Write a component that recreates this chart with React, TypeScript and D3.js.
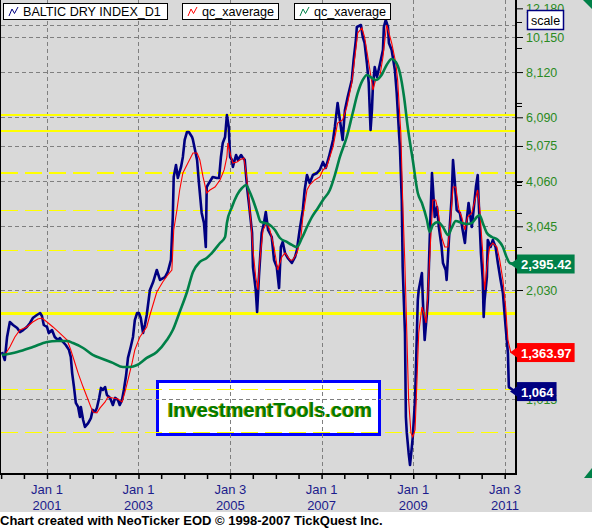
import { useRef, useEffect } from 'react'
import * as d3 from 'd3'

type Pt = [number, number] // [decimal year, index value]

// Baltic Dry Index, weekly-ish closes
const bdiSeries: Pt[] = [
  [2000.02, 1369], [2000.08, 1301], [2000.13, 1506], [2000.19, 1656], [2000.26, 1625], [2000.35, 1594],
  [2000.41, 1554], [2000.48, 1574], [2000.56, 1605], [2000.63, 1646], [2000.69, 1699], [2000.78, 1732],
  [2000.85, 1754], [2000.89, 1721], [2000.93, 1625], [2001.0, 1605], [2001.04, 1544], [2001.11, 1574],
  [2001.17, 1506], [2001.24, 1477], [2001.28, 1496], [2001.35, 1459], [2001.41, 1431], [2001.48, 1387],
  [2001.52, 1326], [2001.55, 1197], [2001.59, 1095], [2001.63, 990], [2001.68, 965], [2001.72, 905],
  [2001.74, 965], [2001.79, 888], [2001.83, 850], [2001.9, 871], [2001.96, 899], [2002.0, 947],
  [2002.05, 935], [2002.09, 959], [2002.14, 1022], [2002.18, 1089], [2002.22, 1075], [2002.27, 1095],
  [2002.31, 1041], [2002.38, 1022], [2002.44, 977], [2002.49, 1022], [2002.55, 1009], [2002.59, 977],
  [2002.64, 1009], [2002.68, 1075], [2002.73, 1182], [2002.77, 1318], [2002.83, 1413], [2002.88, 1506],
  [2002.92, 1677], [2002.97, 1754], [2003.01, 1754], [2003.05, 1699], [2003.1, 1544], [2003.14, 1625],
  [2003.18, 1732], [2003.25, 2031], [2003.32, 2136], [2003.4, 2306], [2003.47, 2164], [2003.58, 2205],
  [2003.64, 2277], [2003.71, 2458], [2003.75, 3231], [2003.77, 4167], [2003.82, 4497], [2003.86, 4140],
  [2003.93, 4441], [2003.97, 4732], [2004.01, 5273], [2004.06, 5548], [2004.1, 5548], [2004.17, 5374],
  [2004.19, 5273], [2004.28, 4642], [2004.32, 4011], [2004.38, 3314], [2004.43, 3110], [2004.47, 2669],
  [2004.49, 3909], [2004.54, 4011], [2004.62, 4167], [2004.71, 4140], [2004.76, 4140], [2004.8, 4732],
  [2004.84, 5174], [2004.89, 5374], [2004.93, 6180], [2004.97, 5727], [2005.0, 4732], [2005.04, 4642],
  [2005.06, 4441], [2005.13, 4792], [2005.17, 4642], [2005.24, 4792], [2005.28, 4702], [2005.32, 4642],
  [2005.37, 3909], [2005.41, 3531], [2005.48, 2918], [2005.5, 2350], [2005.56, 2031], [2005.59, 1766],
  [2005.63, 2205], [2005.69, 2918], [2005.74, 3110], [2005.78, 3335], [2005.83, 2974], [2005.91, 2844],
  [2005.96, 2458], [2006.02, 2350], [2006.07, 2056], [2006.11, 2669], [2006.15, 2756], [2006.2, 2569],
  [2006.26, 2489], [2006.35, 2411], [2006.42, 2505], [2006.46, 2619], [2006.52, 2974], [2006.59, 3378],
  [2006.63, 3836], [2006.68, 4219], [2006.74, 4011], [2006.81, 4219], [2006.9, 4274], [2006.96, 4357],
  [2007.03, 4584], [2007.09, 4413], [2007.16, 4732], [2007.25, 5273], [2007.29, 5727], [2007.35, 6672],
  [2007.4, 5987], [2007.46, 5273], [2007.51, 6381], [2007.57, 6929], [2007.66, 7722], [2007.7, 8770],
  [2007.75, 9958], [2007.77, 10818], [2007.86, 10956], [2007.9, 10150], [2007.94, 9771], [2007.99, 8603],
  [2008.03, 7576], [2008.05, 6504], [2008.07, 5619], [2008.1, 6381], [2008.12, 7386], [2008.16, 8387],
  [2008.21, 7870], [2008.27, 8494], [2008.34, 9346], [2008.36, 10818], [2008.4, 11311], [2008.45, 10818],
  [2008.47, 9771], [2008.53, 9346], [2008.6, 8228], [2008.64, 7109], [2008.69, 5513], [2008.71, 5043],
  [2008.75, 3600], [2008.77, 2350], [2008.82, 1544], [2008.84, 905], [2008.86, 818], [2008.9, 720],
  [2008.93, 667], [2008.97, 748], [2008.99, 797], [2009.04, 1009], [2009.08, 1544], [2009.1, 1905],
  [2009.12, 2031], [2009.19, 2262], [2009.21, 1905], [2009.25, 1477], [2009.3, 1754], [2009.32, 1905],
  [2009.36, 2791], [2009.41, 4274], [2009.43, 3909], [2009.47, 3231], [2009.52, 3443], [2009.56, 3031],
  [2009.62, 2669], [2009.65, 2411], [2009.71, 2306], [2009.73, 2164], [2009.78, 2791], [2009.84, 3668],
  [2009.87, 4642], [2009.91, 4011], [2009.95, 3378], [2010.02, 3314], [2010.08, 2974], [2010.13, 2738],
  [2010.17, 3170], [2010.21, 3531], [2010.28, 3031], [2010.32, 3378], [2010.37, 3909], [2010.41, 4219],
  [2010.43, 3600], [2010.48, 2569], [2010.52, 2164], [2010.54, 1710], [2010.56, 1905], [2010.61, 2205],
  [2010.63, 2791], [2010.69, 2669], [2010.74, 2791], [2010.8, 2669], [2010.85, 2411], [2010.91, 2164],
  [2010.96, 1992], [2011.02, 1605], [2011.07, 1360], [2011.09, 1095], [2011.18, 1075], [2011.22, 1064],
]

// fast qc_xaverage (red)
const fastAverage: Pt[] = [
  [2000.08, 1343], [2000.19, 1413], [2000.3, 1506], [2000.41, 1574], [2000.56, 1605], [2000.69, 1656],
  [2000.8, 1689], [2000.89, 1699], [2001.0, 1656], [2001.13, 1605], [2001.28, 1544], [2001.44, 1477],
  [2001.52, 1387], [2001.59, 1301], [2001.68, 1197], [2001.79, 1095], [2001.9, 1009], [2002.0, 935],
  [2002.09, 929], [2002.16, 959], [2002.27, 996], [2002.33, 1028], [2002.44, 1022], [2002.55, 1015],
  [2002.64, 996], [2002.7, 1055], [2002.77, 1146], [2002.86, 1277], [2002.92, 1387], [2003.03, 1506],
  [2003.18, 1605], [2003.25, 1732], [2003.4, 2005], [2003.53, 2136], [2003.64, 2234], [2003.73, 2306],
  [2003.77, 2974], [2003.84, 3378], [2003.9, 3836], [2003.97, 4274], [2004.08, 4554], [2004.19, 4853],
  [2004.28, 4853], [2004.34, 4642], [2004.41, 4167], [2004.49, 3763], [2004.56, 3836], [2004.67, 3909],
  [2004.78, 4088], [2004.87, 4357], [2004.93, 4732], [2004.95, 5174], [2005.02, 4732], [2005.06, 4554],
  [2005.15, 4584], [2005.21, 4642], [2005.3, 4702], [2005.35, 4274], [2005.39, 3836], [2005.45, 3170],
  [2005.5, 2619], [2005.56, 2205], [2005.61, 2031], [2005.65, 2458], [2005.72, 2974], [2005.8, 3110],
  [2005.87, 2974], [2005.96, 2669], [2006.04, 2306], [2006.13, 2505], [2006.2, 2569], [2006.31, 2458],
  [2006.37, 2458], [2006.46, 2569], [2006.55, 2844], [2006.59, 3231], [2006.68, 3836], [2006.74, 3960],
  [2006.85, 4088], [2006.96, 4167], [2007.03, 4357], [2007.11, 4441], [2007.25, 5043], [2007.35, 5873],
  [2007.46, 5987], [2007.55, 6504], [2007.66, 7576], [2007.72, 8770], [2007.79, 10411], [2007.88, 10750],
  [2007.94, 10150], [2008.01, 8938], [2008.1, 7576], [2008.12, 7246], [2008.18, 7722], [2008.27, 7870],
  [2008.34, 8938], [2008.42, 10956], [2008.47, 10411], [2008.53, 9771], [2008.62, 8603], [2008.66, 7722],
  [2008.73, 5513], [2008.77, 3600], [2008.82, 2350], [2008.86, 1544], [2008.9, 1009], [2008.95, 818],
  [2008.99, 797], [2009.04, 834], [2009.08, 1124], [2009.12, 1544], [2009.19, 1822], [2009.23, 1754],
  [2009.28, 1646], [2009.32, 1992], [2009.38, 2791], [2009.43, 3600], [2009.49, 3600], [2009.54, 3378],
  [2009.62, 2844], [2009.69, 2669], [2009.76, 2669], [2009.82, 3231], [2009.87, 3909], [2009.93, 3909],
  [2010.0, 3378], [2010.06, 3231], [2010.13, 2974], [2010.19, 3231], [2010.28, 3314], [2010.35, 3600],
  [2010.41, 3836], [2010.45, 3443], [2010.52, 2569], [2010.56, 2031], [2010.61, 2350], [2010.67, 2669],
  [2010.74, 2738], [2010.83, 2669], [2010.89, 2458], [2010.96, 2164], [2011.02, 1822], [2011.07, 1477],
  [2011.13, 1369], [2011.22, 1364],
]

// slow qc_xaverage (green)
const slowAverage: Pt[] = [
  [2000.02, 1343], [2000.35, 1369], [2000.69, 1413], [2001.0, 1459], [2001.22, 1468], [2001.44, 1468],
  [2001.57, 1449], [2001.79, 1404], [2002.0, 1343], [2002.22, 1309], [2002.44, 1277], [2002.66, 1244],
  [2002.81, 1244], [2002.97, 1260], [2003.18, 1318], [2003.4, 1369], [2003.62, 1477], [2003.75, 1574],
  [2003.9, 1766], [2004.06, 2005], [2004.19, 2277], [2004.34, 2427], [2004.49, 2489], [2004.62, 2585],
  [2004.78, 2738], [2004.89, 2844], [2004.93, 3110], [2005.04, 3443], [2005.15, 3715], [2005.26, 3885],
  [2005.35, 3960], [2005.41, 3836], [2005.5, 3600], [2005.59, 3335], [2005.67, 3130], [2005.76, 3110],
  [2005.87, 3071], [2005.98, 2974], [2006.09, 2826], [2006.24, 2756], [2006.35, 2704], [2006.46, 2669],
  [2006.57, 2826], [2006.68, 3031], [2006.79, 3231], [2006.92, 3421], [2007.03, 3600], [2007.18, 3836],
  [2007.29, 4219], [2007.4, 4732], [2007.55, 5374], [2007.68, 6260], [2007.79, 7109], [2007.9, 7722],
  [2007.99, 7970], [2008.1, 7820], [2008.18, 7722], [2008.31, 7970], [2008.42, 8494], [2008.53, 8825],
  [2008.62, 8658], [2008.71, 8072], [2008.8, 6929], [2008.88, 5727], [2008.99, 4642], [2009.1, 3763],
  [2009.19, 3531], [2009.3, 3170], [2009.36, 2937], [2009.43, 3071], [2009.54, 3130], [2009.65, 3031],
  [2009.76, 2881], [2009.84, 3012], [2009.93, 3150], [2010.06, 3110], [2010.17, 3090], [2010.28, 3110],
  [2010.39, 3231], [2010.45, 3272], [2010.52, 3110], [2010.61, 2918], [2010.72, 2844], [2010.85, 2791],
  [2010.96, 2669], [2011.04, 2505], [2011.11, 2411], [2011.22, 2395],
]

const axisValues = [12180, 10150, 8120, 6090, 5075, 4060, 3045, 2030, 1015]
const gridValues = [10950, 10150, 8120, 6090, 5075, 4060, 3045, 2030, 1015]
const minorTickValues = [11167, 9465, 6672, 6544, 4036, 3960, 3314, 2669]

// horizontal yellow levels
const solidLevels = [6180, 5583, 1748]
const boldDashedLevels = [4274]
const dashedLevels = [3378, 2619, 2005, 1082, 825]

const dateTicks = ['2001-01-01', '2003-01-01', '2005-01-03', '2007-01-01', '2009-01-01', '2011-01-03']
const dateTickDays = ['Jan 1', 'Jan 1', 'Jan 3', 'Jan 1', 'Jan 1', 'Jan 3']
const dateTickYears = ['2001', '2003', '2005', '2007', '2009', '2011']

const legendNames = ['BALTIC DRY INDEX_D1', 'qc_xaverage', 'qc_xaverage']
const lastValues = [2395.42, 1363.97, 1064]

const NAVY = '#000080'
const RED = '#ff0000'
const GREEN = '#008048'

const toDate = (yf: number) => {
  const yr = Math.floor(yf)
  const a = new Date(yr, 0, 1).getTime()
  const b = new Date(yr + 1, 0, 1).getTime()
  return new Date(a + (yf - yr) * (b - a))
}

export default function App() {
  const svgRef = useRef<SVGSVGElement>(null)

  useEffect(() => {
    if (!svgRef.current) return
    const svg = d3.select(svgRef.current)
    svg.selectAll('*').remove()

    const W = 592
    const H = 528
    const left = 1
    const right = 516
    const bottom = 473
    const font = 'Arial, "Liberation Sans", sans-serif'
    const parse = d3.timeParse('%Y-%m-%d')

    const x = d3.scaleTime().domain([new Date(1999, 11, 31), new Date(2011, 3, 1)]).range([left, right])
    const y = d3.scaleLog().domain([1015, 10150]).range([399, 37])

    // Backgrounds
    svg.append('rect').attr('width', W).attr('height', H).attr('fill', '#d9d9d9')
    svg.append('rect').attr('y', 512).attr('width', W).attr('height', H - 512).attr('fill', '#ffffff')

    // Watermark box (grid lines run across it)
    svg.append('rect')
      .attr('x', 157.5).attr('y', 381.5).attr('width', 222).attr('height', 53)
      .attr('fill', '#ffffff').attr('stroke', '#0000ff').attr('stroke-width', 3)
    svg.append('text')
      .attr('x', 269).attr('y', 417).attr('text-anchor', 'middle')
      .attr('font-family', font).attr('font-size', 20).attr('font-weight', 'bold')
      .attr('fill', '#a8a800').text('InvestmentTools.com')
    svg.append('text')
      .attr('x', 270).attr('y', 417).attr('text-anchor', 'middle')
      .attr('font-family', font).attr('font-size', 20).attr('font-weight', 'bold')
      .attr('fill', '#007a00').text('InvestmentTools.com')

    // Gray dashed grid
    const grid = svg.append('g').attr('stroke', '#7f7f7f').attr('stroke-width', 1)
      .attr('stroke-dasharray', '4,3').attr('shape-rendering', 'crispEdges')
    gridValues.forEach((v) => {
      grid.append('line').attr('x1', left).attr('x2', right).attr('y1', Math.round(y(v)) + 0.5).attr('y2', Math.round(y(v)) + 0.5)
    })
    dateTicks.forEach((d) => {
      const xp = Math.round(x(parse(d) as Date)) + 0.5
      grid.append('line').attr('x1', xp).attr('x2', xp).attr('y1', 0).attr('y2', bottom)
    })

    // Yellow levels
    const levels = svg.append('g').attr('stroke', '#ffff00').attr('shape-rendering', 'crispEdges')
    solidLevels.forEach((v) => {
      levels.append('line').attr('x1', left).attr('x2', right).attr('y1', y(v)).attr('y2', y(v)).attr('stroke-width', 2.5)
    })
    boldDashedLevels.forEach((v) => {
      levels.append('line').attr('x1', left).attr('x2', right).attr('y1', y(v)).attr('y2', y(v))
        .attr('stroke-width', 2).attr('stroke-dasharray', '17,7')
    })
    dashedLevels.forEach((v) => {
      levels.append('line').attr('x1', left).attr('x2', right).attr('y1', Math.round(y(v)) + 0.5).attr('y2', Math.round(y(v)) + 0.5)
        .attr('stroke-width', 1).attr('stroke-dasharray', '17,7')
    })

    // Series
    const line = d3.line<Pt>().x((d) => x(toDate(d[0]))).y((d) => y(d[1]))
    svg.append('path').datum(bdiSeries).attr('fill', 'none').attr('stroke', NAVY)
      .attr('stroke-width', 2.6).attr('stroke-linejoin', 'round').attr('d', line)
    svg.append('path').datum(fastAverage).attr('fill', 'none').attr('stroke', RED)
      .attr('stroke-width', 1.1).attr('d', line)
    svg.append('path').datum(slowAverage).attr('fill', 'none').attr('stroke', GREEN)
      .attr('stroke-width', 2.6).attr('d', line.curve(d3.curveMonotoneX))

    // Frame
    svg.append('line').attr('x1', 0.5).attr('x2', 0.5).attr('y1', 0).attr('y2', bottom).attr('stroke', '#000')
    svg.append('line').attr('x1', 0).attr('x2', right + 1).attr('y1', bottom + 1).attr('y2', bottom + 1)
      .attr('stroke', '#000').attr('stroke-width', 2)

    // Bottom axis ticks
    const halfYears = d3.timeMonth.every(6)!.range(new Date(2000, 0, 1), new Date(2011, 1, 1))
    svg.append('g')
      .attr('transform', `translate(0,${bottom + 2})`)
      .call(d3.axisBottom(x).tickValues(halfYears).tickSize(4).tickFormat(() => ''))
      .call((g) => g.select('.domain').remove())
      .call((g) => g.selectAll('line').attr('stroke', '#000').attr('stroke-width', 1.5))

    const xl = svg.append('g').attr('font-family', font).attr('font-size', 13).attr('fill', '#1c1c8c')
      .attr('text-anchor', 'middle')
    dateTicks.forEach((d, i) => {
      const xp = x(parse(d) as Date)
      xl.append('text').attr('x', xp).attr('y', 494).text(dateTickDays[i])
      xl.append('text').attr('x', xp).attr('y', 510).text(dateTickYears[i])
    })

    // Right price axis
    svg.append('g')
      .attr('transform', `translate(${right + 1},0)`)
      .call(d3.axisRight(y).tickValues(axisValues).tickSize(6).tickPadding(3).tickFormat((d) => d3.format(',')(d as number)))
      .call((g) => g.select('.domain').remove())
      .call((g) => g.selectAll('line').attr('stroke', '#000'))
      .call((g) => g.selectAll('text').attr('font-family', font).attr('font-size', 12.5).attr('fill', '#2a8a22'))
    svg.append('g')
      .attr('transform', `translate(${right + 1},0)`)
      .call(d3.axisRight(y).tickValues(minorTickValues).tickSize(5).tickFormat(() => ''))
      .call((g) => g.select('.domain').remove())
      .call((g) => g.selectAll('line').attr('stroke', '#000'))
    svg.append('line').attr('x1', right).attr('x2', right).attr('y1', 0).attr('y2', bottom + 2)
      .attr('stroke', '#000').attr('stroke-width', 2)

    // Legend boxes
    const legendBoxes = [[3, 164], [182, 96], [294, 96]]
    const legendColors = [NAVY, RED, GREEN]
    legendNames.forEach((name, i) => {
      const [bx, bw] = legendBoxes[i]
      svg.append('rect').attr('x', bx + 0.5).attr('y', 3.5).attr('width', bw).attr('height', 16)
        .attr('fill', '#fff').attr('stroke', '#000')
      svg.append('path')
        .attr('d', `M${bx + 6},16 L${bx + 9},9 L${bx + 11.5},13.5 L${bx + 15},7`)
        .attr('fill', 'none').attr('stroke', legendColors[i]).attr('stroke-width', 1)
      svg.append('text').attr('x', bx + 20).attr('y', 16)
        .attr('font-family', font).attr('font-size', 12.6).attr('fill', '#000').text(name)
    })

    // Last value tags: slow average, fast average, index
    const tagColors = [GREEN, RED, NAVY]
    const tagFormats = [d3.format(',.2f'), d3.format(',.2f'), d3.format(',')]
    lastValues.forEach((v, i) => {
      const yc = y(v)
      const g = svg.append('g')
      const rect = g.append('rect').attr('x', right + 1).attr('y', yc - 9.5).attr('height', 19).attr('fill', tagColors[i])
      const t = g.append('text').attr('x', right + 5).attr('y', yc + 5)
        .attr('font-family', font).attr('font-size', 13).attr('font-weight', 'bold')
        .attr('fill', '#fff').text(tagFormats[i](v))
      const tw = (t.node() as SVGTextElement).getComputedTextLength()
      rect.attr('width', tw + 7)
      g.append('path').attr('d', `M${right - 6},${yc} L${right + 1},${yc - 5} L${right + 1},${yc + 5}Z`).attr('fill', tagColors[i])
    })

    // "scale" button
    svg.append('rect').attr('x', 527.5).attr('y', 10.5).attr('width', 36).attr('height', 19)
      .attr('fill', '#fff').attr('stroke', NAVY).attr('stroke-width', 1.5)
    svg.append('text').attr('x', 545.5).attr('y', 24.5).attr('text-anchor', 'middle')
      .attr('font-family', font).attr('font-size', 12.5).attr('fill', '#000').text('scale')

    // corner markers
    svg.append('path').attr('d', 'M583,0 L592,0 L592,9Z').attr('fill', GREEN)
    svg.append('path').attr('d', 'M584,478 L592,468 L592,478Z').attr('fill', GREEN)

    // Caption
    svg.append('text').attr('x', 0).attr('y', 525)
      .attr('font-family', font).attr('font-size', 13).attr('font-weight', 'bold').attr('fill', '#000')
      .text('Chart created with NeoTicker EOD © 1998-2007 TickQuest Inc.')
  }, [])

  return (
    <svg ref={svgRef} width={592} height={528} style={{ position: 'absolute', left: 0, top: 0 }} />
  )
}
